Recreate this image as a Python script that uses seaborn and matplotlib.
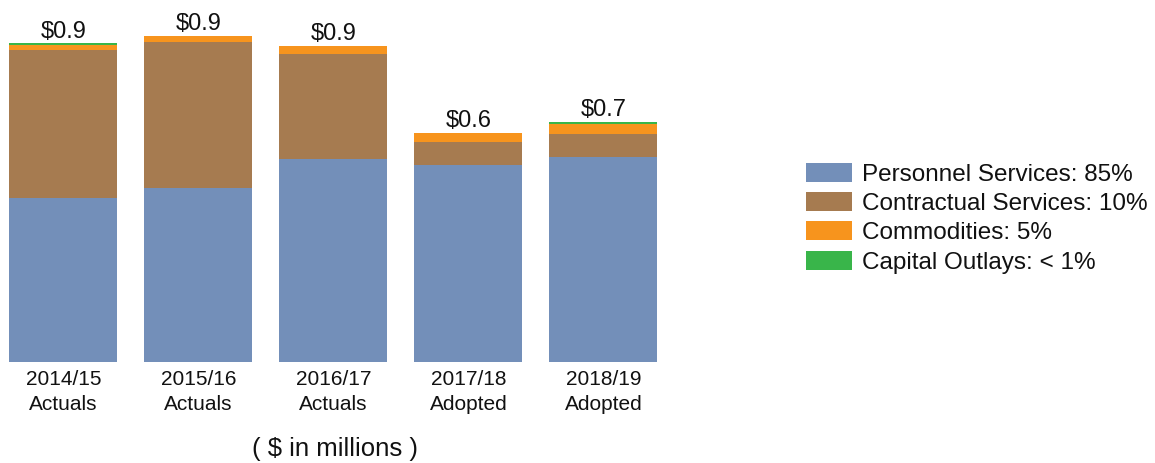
import pandas as pd
import numpy as np
import matplotlib
matplotlib.use("Agg")
import matplotlib.pyplot as plt
from matplotlib.patches import Patch
import seaborn as sns

# data ($ in millions)
years = ["2014/15\nActuals", "2015/16\nActuals", "2016/17\nActuals", "2017/18\nAdopted", "2018/19\nAdopted"]
personnel = [0.458, 0.486, 0.567, 0.550, 0.573]
contractual = [0.413, 0.408, 0.293, 0.064, 0.064]
commodities = [0.015, 0.017, 0.022, 0.025, 0.027]
capital = [0.004, 0.0, 0.0, 0.0, 0.006]
totals_lbl = ["$0.9", "$0.9", "$0.9", "$0.6", "$0.7"]
legend_labels = ["Personnel Services: 85%", "Contractual Services: 10%",
                 "Commodities: 5%", "Capital Outlays: < 1%"]
colors = ["#738FB9", "#A67B50", "#F7941D", "#39B54A"]

sns.set_style("white")
plt.rcParams['font.family'] = ['Liberation Sans', 'DejaVu Sans']
plt.rcParams['text.color'] = '#111111'
plt.rcParams['xtick.color'] = '#111111'

df = pd.DataFrame({"year": years, "p": personnel, "c": contractual,
                   "m": commodities, "k": capital})
df["c1"] = df["p"]
df["c2"] = df["c1"] + df["c"]
df["c3"] = df["c2"] + df["m"]
df["c4"] = df["c3"] + df["k"]

fig = plt.figure(figsize=(11.55, 4.63), dpi=100)
ax = fig.add_axes([0, 101/463, 675/1155, 362/463])

# draw cumulative stacks from the top down so each layer shows
for col, colr in zip(["c4", "c3", "c2", "c1"], colors[::-1]):
    sns.barplot(data=df, x="year", y=col, color=colr, width=0.8,
                saturation=1, linewidth=0, edgecolor="none", ax=ax)

ax.set_xlim(-0.47, 4.53)
ax.set_ylim(0, 1.011)
ax.set_xlabel("")
ax.set_ylabel("")
ax.set_yticks([])
ax.tick_params(axis="x", length=0, labelsize=15, pad=6)
for lab in ax.get_xticklabels():
    lab.set_linespacing(1.35)
for s in ax.spines.values():
    s.set_visible(False)

for i, (t, lbl) in enumerate(zip(df["c4"], totals_lbl)):
    ax.text(i, t + 0.002, lbl, ha="center", va="bottom", fontsize=17)

fig.text(335/1155, 1 - 449/463, "( $ in millions )", ha="center", va="center", fontsize=18.5)

handles = [Patch(facecolor=c, edgecolor="none") for c in colors]
fig.legend(handles, legend_labels, loc="upper left",
           bbox_to_anchor=(806/1155, 1 - 163/463), frameon=False,
           fontsize=17.5, handlelength=1.9, handleheight=0.82,
           handletextpad=0.4, labelspacing=0.26, borderpad=0, borderaxespad=0)

fig.savefig("out.png", dpi=100)
